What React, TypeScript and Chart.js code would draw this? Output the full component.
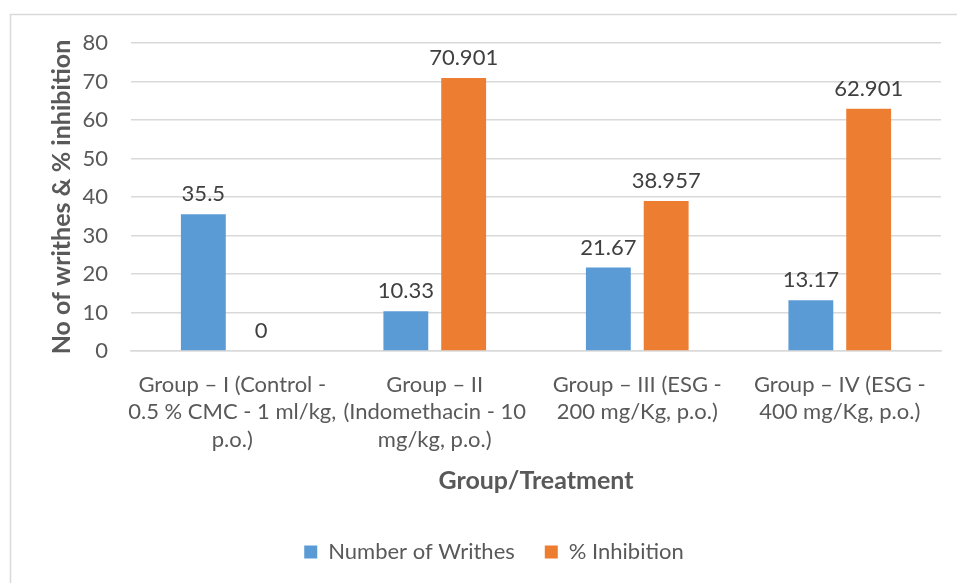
import React, { useEffect, useRef } from "react";
import { Chart, registerables } from "chart.js";

Chart.register(...registerables);

const categories: string[][] = [
  ["Group – I (Control -", "0.5 % CMC - 1 ml/kg,", "p.o.)"],
  ["Group – II", "(Indomethacin - 10", "mg/kg, p.o.)"],
  ["Group – III (ESG -", "200 mg/Kg, p.o.)"],
  ["Group – IV (ESG -", "400 mg/Kg, p.o.)"],
];
const writhes: number[] = [35.5, 10.33, 21.67, 13.17];
const inhibition: number[] = [0, 70.901, 38.957, 62.901];
const seriesNames = ["Number of Writhes", "% Inhibition"];
const yTicks = { min: 0, max: 80, step: 10 };
const yTitle = "No of writhes & % inhibition";
const xTitle = "Group/Treatment";

const FONT = "Lato, 'Open Sans', sans-serif";
const W = 957;
const H = 583;

const framePlugin = {
  id: "frame",
  beforeDraw(chart: any) {
    const ctx = chart.ctx;
    ctx.save();
    ctx.fillStyle = "#ffffff";
    ctx.fillRect(0, 0, chart.width, chart.height);
    ctx.strokeStyle = "#d9d9d9";
    ctx.lineWidth = 1.5;
    ctx.strokeRect(10.5, 14.5, 1200, 1200);
    ctx.restore();
  },
};

const labelPlugin = {
  id: "valueLabels",
  afterDatasetsDraw(chart: any) {
    const ctx = chart.ctx;
    ctx.save();
    ctx.font = `22px ${FONT}`;
    ctx.fillStyle = "#404040";
    ctx.textAlign = "center";
    ctx.textBaseline = "bottom";
    chart.data.datasets.forEach((ds: any, di: number) => {
      const meta = chart.getDatasetMeta(di);
      meta.data.forEach((el: any, i: number) => {
        ctx.fillText(String(ds.data[i]), el.x, el.y - 9);
      });
    });
    ctx.restore();
  },
};

export default function App() {
  const ref = useRef<HTMLCanvasElement>(null);
  useEffect(() => {
    if (!ref.current) return;
    const chart = new Chart(ref.current, {
      type: "bar",
      data: {
        labels: categories,
        datasets: [
          {
            label: seriesNames[0],
            data: writhes,
            backgroundColor: "#5B9BD5",
            categoryPercentage: 0.571,
            barPercentage: 0.776,
          },
          {
            label: seriesNames[1],
            data: inhibition,
            backgroundColor: "#ED7D31",
            categoryPercentage: 0.571,
            barPercentage: 0.776,
          },
        ],
      },
      options: {
        animation: false,
        responsive: false,
        devicePixelRatio: 1,
        layout: { padding: { top: 43, right: 16, bottom: 10, left: 47 } },
        plugins: {
          tooltip: { enabled: false },
          legend: {
            position: "bottom",
            labels: {
              boxWidth: 13,
              boxHeight: 13,
              padding: 30,
              color: "#595959",
              font: { family: FONT, size: 22 },
            },
          },
        },
        scales: {
          x: {
            grid: { display: false },
            border: { color: "#d9d9d9", width: 1.5 },
            ticks: {
              color: "#595959",
              font: { family: FONT, size: 22, lineHeight: 1.25 },
              padding: 12,
              maxRotation: 0,
              autoSkip: false,
            },
            title: {
              display: true,
              text: xTitle,
              color: "#595959",
              font: { family: FONT, size: 25, weight: "bold" },
              padding: { top: 0, bottom: 15 },
            },
            afterFit(scale: any) {
              scale.height = 160;
            },
          },
          y: {
            min: yTicks.min,
            max: yTicks.max,
            ticks: {
              stepSize: yTicks.step,
              color: "#595959",
              font: { family: FONT, size: 22 },
              padding: 23,
            },
            grid: { color: "#d9d9d9", lineWidth: 1.5, drawTicks: false },
            border: { display: false },
            title: {
              display: true,
              text: yTitle,
              color: "#595959",
              font: { family: FONT, size: 25, weight: "bold" },
              padding: { top: 0, bottom: 0 },
            },
            afterFit(scale: any) {
              scale.width = 84;
            },
          },
        },
      },
      plugins: [framePlugin, labelPlugin],
    } as any);
    return () => chart.destroy();
  }, []);
  return (
    <div style={{ position: "fixed", left: 0, top: 0, width: W, height: H }}>
      <canvas ref={ref} width={W} height={H} style={{ width: W, height: H, display: "block" }} />
    </div>
  );
}
